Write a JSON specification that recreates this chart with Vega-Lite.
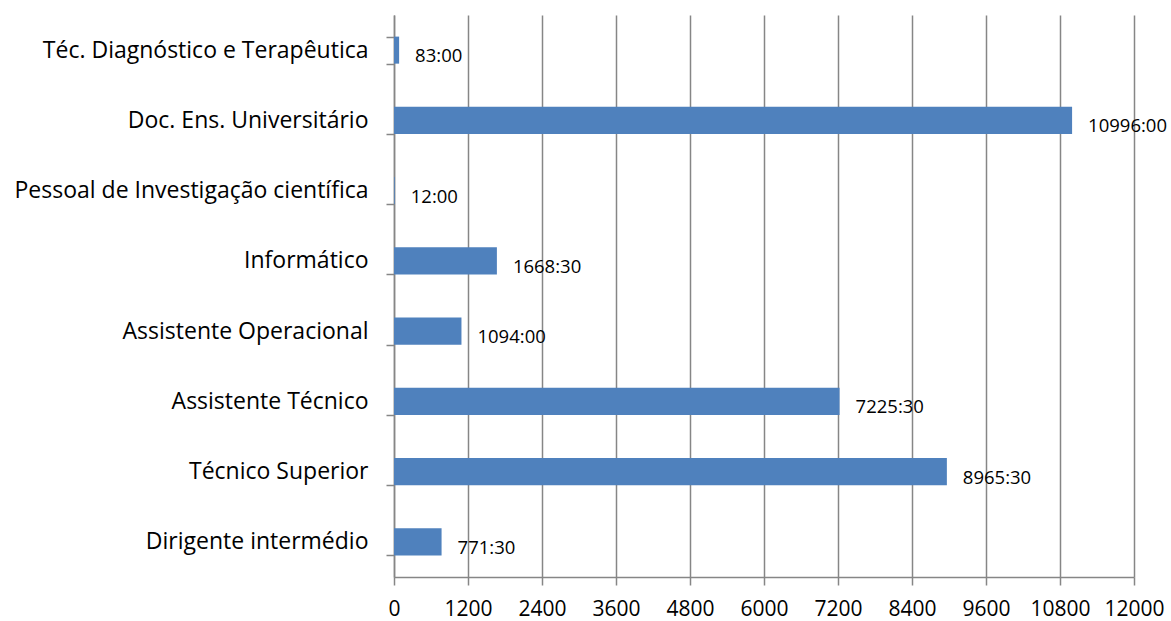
{
  "$schema": "https://vega.github.io/schema/vega-lite/v6.json",
  "autosize": {"type": "none"},
  "padding": {"left": 394, "top": 15, "right": 37, "bottom": 44},
  "width": 740,
  "height": 562,
  "background": "white",
  "config": {"view": {"stroke": null}, "font": "Open Sans"},
  "data": {
    "values": [
      {"categoria": "Téc. Diagnóstico e Terapêutica", "horas": 83, "rotulo": "83:00"},
      {"categoria": "Doc. Ens. Universitário", "horas": 10996, "rotulo": "10996:00"},
      {"categoria": "Pessoal de Investigação científica", "horas": 12, "rotulo": "12:00"},
      {"categoria": "Informático", "horas": 1668.5, "rotulo": "1668:30"},
      {"categoria": "Assistente Operacional", "horas": 1094, "rotulo": "1094:00"},
      {"categoria": "Assistente Técnico ", "horas": 7225.5, "rotulo": "7225:30"},
      {"categoria": "Técnico Superior", "horas": 8965.5, "rotulo": "8965:30"},
      {"categoria": "Dirigente intermédio", "horas": 771.5, "rotulo": "771:30"}
    ]
  },
  "encoding": {
    "y": {
      "field": "categoria",
      "type": "nominal",
      "sort": null,
      "title": null,
      "scale": {"paddingInner": 0.615, "paddingOuter": 0.3075},
      "axis": {
        "tickBand": "extent",
        "tickSize": 8,
        "tickWidth": 1.5,
        "tickColor": "#868686",
        "domainColor": "#868686",
        "domainWidth": 1.5,
        "labelFontSize": 23,
        "labelColor": "#000000",
        "labelPadding": 18,
        "labelLimit": 500,
        "grid": false
      }
    },
    "x": {
      "field": "horas",
      "type": "quantitative",
      "title": null,
      "scale": {"domain": [0, 12000], "nice": false, "zero": true},
      "axis": {
        "values": [0, 1200, 2400, 3600, 4800, 6000, 7200, 8400, 9600, 10800, 12000],
        "format": "d",
        "grid": true,
        "gridColor": "#868686",
        "gridWidth": 1.5,
        "tickSize": 8,
        "tickWidth": 1.5,
        "tickColor": "#868686",
        "domainColor": "#868686",
        "domainWidth": 1.5,
        "labelFontSize": 21,
        "labelColor": "#000000",
        "labelPadding": 13,
        "labelFlush": false
      }
    }
  },
  "layer": [
    {"mark": {"type": "bar", "color": "#4F81BD"}},
    {
      "mark": {"type": "text", "align": "left", "baseline": "middle", "dx": 16, "dy": 6, "fontSize": 18.5, "color": "#000000"},
      "encoding": {"text": {"field": "rotulo", "type": "nominal"}}
    }
  ]
}
